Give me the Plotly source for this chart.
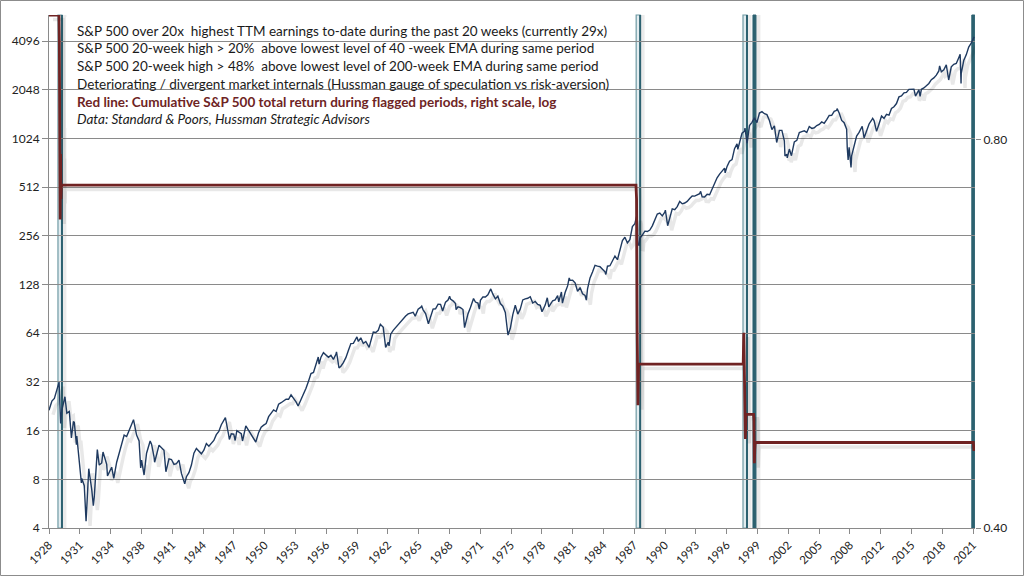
import math
import plotly.graph_objects as go

# ---------------- data ----------------
sp_dates = [
    1928.70, 1928.99, 1929.24, 1929.49, 1929.71, 1929.83, 1929.87, 1929.99,
    1930.24, 1930.30, 1930.49, 1930.74, 1930.95, 1930.99,
    1931.15, 1931.24, 1931.45, 1931.49, 1931.74, 1931.95, 1931.99,
    1932.24, 1932.42, 1932.69, 1932.99,
    1933.15, 1933.24, 1933.49, 1933.55, 1933.74, 1933.99,
    1934.12, 1934.49, 1934.57, 1934.99,
    1935.20, 1935.49, 1935.74, 1935.99,
    1936.24, 1936.49, 1936.74, 1936.99,
    1937.18, 1937.49, 1937.74, 1937.90, 1937.99,
    1938.24, 1938.49, 1938.85, 1938.99,
    1939.24, 1939.30, 1939.74, 1939.99,
    1940.24, 1940.43, 1940.74, 1940.99,
    1941.24, 1941.49, 1941.74, 1941.99,
    1942.32, 1942.49, 1942.74, 1942.99,
    1943.24, 1943.49, 1943.74, 1943.99,
    1944.24, 1944.49, 1944.74, 1944.99,
    1945.24, 1945.49, 1945.74, 1945.99,
    1946.24, 1946.40, 1946.74, 1946.80, 1946.99,
    1947.24, 1947.38, 1947.55, 1947.99,
    1948.12, 1948.45, 1948.99,
    1949.45, 1949.74, 1949.99,
    1950.24, 1950.49, 1950.74, 1950.99,
    1951.24, 1951.49, 1951.74, 1951.99,
    1952.24, 1952.49, 1952.74, 1952.99,
    1953.24, 1953.49, 1953.70, 1953.99,
    1954.24, 1954.49, 1954.74, 1954.99,
    1955.24, 1955.49, 1955.72, 1955.80, 1955.99,
    1956.24, 1956.49, 1956.74, 1956.99,
    1957.24, 1957.49, 1957.55, 1957.80, 1957.99,
    1958.24, 1958.49, 1958.74, 1958.99,
    1959.24, 1959.49, 1959.60, 1959.74, 1959.99,
    1960.24, 1960.49, 1960.82, 1960.99,
    1961.24, 1961.49, 1961.74, 1961.95,
    1962.24, 1962.48, 1962.74, 1962.82, 1962.99,
    1963.24, 1963.49, 1963.74, 1963.99,
    1964.24, 1964.49, 1964.74, 1964.99,
    1965.24, 1965.45, 1965.74, 1965.99,
    1966.10, 1966.24, 1966.49, 1966.77, 1966.99,
    1967.24, 1967.49, 1967.74, 1967.99,
    1968.20, 1968.49, 1968.74, 1968.90, 1968.99,
    1969.24, 1969.49, 1969.55, 1969.74, 1969.99,
    1970.24, 1970.40, 1970.49, 1970.74, 1970.99,
    1971.30, 1971.49, 1971.74, 1971.88, 1971.99,
    1972.24, 1972.49, 1972.74, 1972.99,
    1973.03, 1973.24, 1973.49, 1973.74, 1973.99,
    1974.24, 1974.49, 1974.74, 1974.76, 1974.99,
    1975.24, 1975.49, 1975.74, 1975.99,
    1976.24, 1976.49, 1976.74, 1976.99,
    1977.24, 1977.49, 1977.74, 1977.99,
    1978.17, 1978.49, 1978.70, 1978.85, 1978.99,
    1979.24, 1979.49, 1979.74, 1979.85, 1979.99,
    1980.12, 1980.22, 1980.49, 1980.74, 1980.90, 1980.99,
    1981.24, 1981.49, 1981.74, 1981.99,
    1982.24, 1982.49, 1982.62, 1982.74, 1982.99,
    1983.24, 1983.49, 1983.74, 1983.99,
    1984.24, 1984.49, 1984.58, 1984.74, 1984.99,
    1985.24, 1985.49, 1985.74, 1985.99,
    1986.24, 1986.49, 1986.74, 1986.99,
    1987.24, 1987.49, 1987.65, 1987.74, 1987.80, 1987.92, 1987.99,
    1988.24, 1988.49, 1988.74, 1988.99,
    1989.24, 1989.49, 1989.74, 1989.99,
    1990.24, 1990.49, 1990.55, 1990.78, 1990.99,
    1991.24, 1991.49, 1991.74, 1991.99,
    1992.24, 1992.49, 1992.74, 1992.99,
    1993.24, 1993.49, 1993.74, 1993.99,
    1994.09, 1994.24, 1994.49, 1994.74, 1994.99,
    1995.24, 1995.49, 1995.74, 1995.99,
    1996.24, 1996.49, 1996.55, 1996.74, 1996.99,
    1997.24, 1997.49, 1997.74, 1997.82, 1997.99,
    1998.24, 1998.49, 1998.54, 1998.75, 1998.99,
    1999.24, 1999.49, 1999.74, 1999.99,
    2000.24, 2000.49, 2000.74, 2000.99,
    2001.24, 2001.49, 2001.72, 2001.99,
    2002.24, 2002.49, 2002.55, 2002.74, 2002.78, 2002.99,
    2003.20, 2003.49, 2003.74, 2003.99,
    2004.24, 2004.49, 2004.74, 2004.99,
    2005.24, 2005.49, 2005.74, 2005.99,
    2006.24, 2006.49, 2006.74, 2006.99,
    2007.24, 2007.49, 2007.74, 2007.78, 2007.99,
    2008.24, 2008.49, 2008.74, 2008.80, 2008.89, 2008.99,
    2009.18, 2009.24, 2009.49, 2009.74, 2009.99,
    2010.30, 2010.49, 2010.74, 2010.99,
    2011.24, 2011.35, 2011.49, 2011.74, 2011.99,
    2012.24, 2012.49, 2012.74, 2012.99,
    2013.24, 2013.49, 2013.74, 2013.99,
    2014.24, 2014.49, 2014.74, 2014.99,
    2015.24, 2015.49, 2015.65, 2015.74, 2015.99,
    2016.11, 2016.24, 2016.49, 2016.74, 2016.99,
    2017.24, 2017.49, 2017.74, 2017.99,
    2018.07, 2018.24, 2018.49, 2018.74, 2018.98,
    2019.24, 2019.49, 2019.74, 2019.99,
    2020.13, 2020.22, 2020.24, 2020.49, 2020.74, 2020.99,
    2021.24, 2021.50, 2021.55,
]
sp_values = [
    21.4, 24.35, 25.3, 29.0, 31.9, 20.4, 17.7, 21.45,
    25.1, 25.9, 20.5, 21.0, 14.4, 15.3,
    18.2, 18.0, 13.1, 14.8, 9.7, 7.6, 8.1,
    7.3, 4.4, 9.3, 6.9,
    5.5, 6.2, 10.9, 12.2, 9.8, 10.1,
    11.8, 9.9, 8.4, 9.5,
    8.1, 10.2, 11.6, 13.4,
    15.0, 14.7, 15.9, 17.2,
    18.7, 15.0, 13.8, 9.4, 10.5,
    8.5, 11.6, 13.8, 13.2,
    11.0, 10.2, 13.0, 12.5,
    12.1, 8.9, 10.7, 10.6,
    9.9, 10.0, 10.5, 8.7,
    7.5, 8.3, 8.8, 9.8,
    11.6, 12.4, 12.0, 11.5,
    12.1, 13.3, 12.8, 13.3,
    13.9, 15.1, 15.8, 17.4,
    18.7, 19.25, 14.9, 14.1, 15.3,
    15.2, 13.9, 16.0, 15.3,
    13.8, 17.1, 15.2,
    13.6, 15.6, 16.8,
    17.3, 17.7, 19.5, 20.4,
    21.5, 21.0, 23.3, 23.8,
    24.4, 25.0, 25.0, 26.6,
    25.3, 24.1, 22.7, 24.8,
    26.9, 29.2, 32.3, 36.0,
    36.6, 41.0, 45.6, 41.2, 45.5,
    48.5, 46.97, 45.4, 46.7,
    44.1, 47.4, 49.1, 39.0, 40.0,
    42.1, 45.2, 50.1, 55.2,
    55.4, 58.5, 60.7, 56.9, 59.9,
    55.3, 56.9, 52.3, 58.1,
    65.1, 64.6, 66.7, 72.6,
    69.6, 52.3, 56.3, 53.5, 63.1,
    66.6, 69.4, 71.7, 75.0,
    79.0, 81.7, 84.2, 84.75,
    86.2, 81.6, 90.0, 92.4,
    94.0, 89.2, 84.7, 73.2, 80.3,
    90.2, 90.6, 96.7, 96.5,
    87.7, 99.6, 102.7, 108.4, 103.9,
    101.5, 97.7, 89.5, 93.1, 92.1,
    89.6, 69.3, 72.7, 84.2, 92.2,
    104.8, 99.7, 98.3, 90.2, 102.1,
    107.2, 107.1, 110.6, 118.1,
    120.2, 111.5, 104.3, 108.4, 97.6,
    94.0, 86.0, 63.5, 62.3, 68.6,
    83.4, 95.2, 83.9, 90.2,
    102.8, 104.3, 105.2, 107.5,
    98.4, 100.5, 96.5, 95.1,
    86.9, 95.5, 106.0, 93.0, 96.1,
    101.6, 102.9, 109.3, 99.9, 107.9,
    115.1, 98.2, 114.2, 125.5, 140.5, 135.8,
    136.0, 131.2, 116.2, 122.6,
    112.0, 109.6, 102.4, 120.4, 140.6,
    153.0, 168.1, 166.1, 164.9,
    159.2, 153.2, 147.8, 166.1, 167.2,
    180.7, 191.9, 182.1, 211.3,
    238.9, 250.8, 231.3, 242.2,
    291.7, 304.0, 336.8, 321.8, 224.8, 223.9, 247.1,
    258.9, 273.5, 271.9, 277.7,
    294.9, 318.0, 349.2, 353.4,
    339.9, 358.0, 368.9, 295.5, 330.2,
    375.2, 371.2, 387.9, 417.1,
    403.7, 408.1, 417.8, 435.7,
    451.7, 450.5, 458.9, 466.5,
    482.0, 445.8, 444.3, 462.7, 459.3,
    500.7, 544.8, 584.4, 615.9,
    645.5, 670.6, 626.6, 687.3, 740.7,
    757.1, 885.1, 947.3, 876.9, 970.4,
    1101.8, 1133.8, 1186.8, 957.3, 1229.2,
    1286.4, 1372.7, 1282.7, 1469.3,
    1498.6, 1454.6, 1436.5, 1320.3,
    1160.3, 1224.4, 965.8, 1148.1,
    1147.4, 989.8, 797.7, 815.3, 776.8, 879.8,
    800.7, 974.5, 996.0, 1111.9,
    1126.2, 1140.8, 1114.6, 1211.9,
    1180.6, 1191.3, 1228.8, 1248.3,
    1294.8, 1270.2, 1335.9, 1418.3,
    1420.9, 1503.4, 1526.8, 1565.2, 1468.4,
    1322.7, 1280.0, 1166.4, 899.2, 752.4, 903.3,
    676.5, 797.9, 919.3, 1057.1, 1115.1,
    1217.3, 1030.7, 1141.2, 1257.6,
    1325.8, 1363.6, 1320.6, 1131.4, 1257.6,
    1408.5, 1362.2, 1440.7, 1426.2,
    1569.2, 1606.3, 1681.6, 1848.4,
    1872.3, 1960.2, 1972.3, 2058.9,
    2067.9, 2063.1, 1867.6, 1920.0, 2043.9,
    1864.8, 2059.7, 2098.9, 2168.3, 2238.8,
    2362.7, 2423.4, 2519.4, 2673.6,
    2872.9, 2640.9, 2718.4, 2914.0, 2351.1,
    2834.4, 2941.8, 2976.7, 3230.8,
    3386.2, 2237.4, 2584.6, 3100.3, 3363.0, 3756.1,
    3972.9, 4297.5, 4340.0,
]

# Red line: cumulative total return during flagged periods (right scale)
red_dates = [1928.70, 1929.70, 1929.74, 1929.78, 1929.82, 1929.86, 1929.90, 1929.94,
             1987.60, 1987.66, 1987.72, 1987.76, 1987.80, 1987.86,
             1998.36, 1998.42, 1998.47, 1998.52, 1998.58, 1998.64,
             1999.40, 1999.44, 1999.48, 1999.52, 1999.56,
             2021.45, 2021.52]
red_values = [1.00, 1.00, 0.95, 0.787, 0.694, 0.78, 0.72, 0.738,
              0.738, 0.72, 0.57, 0.55, 0.498, 0.536,
              0.536, 0.567, 0.53, 0.509, 0.469, 0.490,
              0.490, 0.486, 0.449, 0.460, 0.466,
              0.466, 0.459]

# Flagged periods (vertical bands)
flag_starts = [1929.60, 1987.62, 1998.34, 1999.34, 2021.30]
flag_ends = [1930.00, 1988.02, 1998.74, 1999.64, 2021.60]
flag_solid = [False, False, False, True, True]

left_ticks = [4, 8, 16, 32, 64, 128, 256, 512, 1024, 2048, 4096]
right_ticks = [0.40, 0.80]
right_tick_text = ["0.40", "0.80"]
year_labels = ["1928", "1931", "1934", "1938", "1941", "1944", "1947", "1950", "1953",
               "1956", "1959", "1962", "1965", "1968", "1971", "1975", "1978", "1981",
               "1984", "1987", "1990", "1993", "1996", "1999", "2002", "2005", "2008",
               "2012", "2015", "2018", "2021"]

legend_lines = [
    "S&P 500 over 20x  highest TTM earnings to-date during the past 20 weeks (currently 29x)",
    "S&P 500 20-week high > 20%  above lowest level of 40 -week EMA during same period",
    "S&P 500 20-week high > 48%  above lowest level of 200-week EMA during same period",
    "Deteriorating / divergent market internals (Hussman gauge of speculation vs risk-aversion)",
    "<b>Red line: Cumulative S&P 500 total return during flagged periods, right scale, log</b>",
    "<i>Data: Standard & Poors, Hussman Strategic Advisors</i>",
]
legend_colors = ["#1a1a1a", "#1a1a1a", "#1a1a1a", "#1a1a1a", "#6e2424", "#1a1a1a"]

# ---------------- layout geometry ----------------
W, H = 1025, 577
PL, PR, PT, PB = 49, 975, 15, 528  # plot-area pixel box
X0, X1 = 1928.70, 2021.62
FONT = "Lato, 'Open Sans', sans-serif"

NAVY = "#1f3a60"
RED = "#702323"
TEAL = "#2c6170"
TEAL_LIGHT = "#6f9aa4"
GRID = "#8a8a8a"


def px_x(p):
    return (p - PL) / (PR - PL)


def px_y(p):
    return (PB - p) / (PB - PT)


year_step = (X1 - X0) * 30.8 / (PR - PL)
tick_positions = [X0 + k * year_step for k in range(len(year_labels))]

fig = go.Figure()

# soft drop shadows
fig.add_trace(go.Scatter(
    x=[d + 0.4 for d in sp_dates], y=[v * 2 ** (-4.5 / 48.7) for v in sp_values],
    mode="lines", line=dict(color="rgba(0,0,0,0.09)", width=3.5),
    hoverinfo="skip", showlegend=False))
fig.add_trace(go.Scatter(
    x=[d + 0.4 for d in red_dates], y=[v * 2 ** (-4.5 / 390) for v in red_values],
    mode="lines", line=dict(color="rgba(0,0,0,0.09)", width=3.5),
    yaxis="y2", hoverinfo="skip", showlegend=False))

fig.add_trace(go.Scatter(
    x=sp_dates, y=sp_values, mode="lines",
    line=dict(color=NAVY, width=1.4), name="S&P 500", showlegend=False))
fig.add_trace(go.Scatter(
    x=red_dates, y=red_values, mode="lines",
    line=dict(color=RED, width=2.8), yaxis="y2", name="Cumulative return",
    showlegend=False))

shapes = []
for s, e, solid in zip(flag_starts, flag_ends, flag_solid):
    shapes.append(dict(type="rect", xref="x", yref="paper", x0=e, x1=e + 0.45, y0=0, y1=1,
                       fillcolor="rgba(0,0,0,0.08)", line=dict(width=0), layer="between"))
    if solid:
        shapes.append(dict(type="rect", xref="x", yref="paper", x0=s, x1=e, y0=0, y1=1,
                           fillcolor=TEAL, line=dict(color=TEAL, width=1), layer="between"))
    else:
        shapes.append(dict(type="rect", xref="x", yref="paper", x0=s, x1=e, y0=0, y1=1,
                           fillcolor="rgba(215,230,234,0.7)",
                           line=dict(color=TEAL_LIGHT, width=1.2), layer="between"))
        shapes.append(dict(type="line", xref="x", yref="paper", x0=e, x1=e, y0=0, y1=1,
                           line=dict(color=TEAL, width=2), layer="between"))

# white text box
shapes.append(dict(type="rect", xref="paper", yref="paper",
                   x0=px_x(66), x1=px_x(630), y0=px_y(128), y1=px_y(17),
                   fillcolor="white", line=dict(width=0), layer="between"))
# outer chart border
shapes.append(dict(type="rect", xref="paper", yref="paper",
                   x0=px_x(0.5), x1=px_x(W - 1.5), y0=px_y(H - 1.5), y1=px_y(0.5),
                   line=dict(color="#8c8c8c", width=1), fillcolor="rgba(0,0,0,0)",
                   layer="above"))

annotations = []
line_centers = [31, 48.5, 66, 83.5, 101.5, 119]
for txt, col, yc in zip(legend_lines, legend_colors, line_centers):
    annotations.append(dict(text=txt, xref="paper", yref="paper", x=px_x(75), y=px_y(yc),
                            xanchor="left", yanchor="middle", showarrow=False,
                            font=dict(family=FONT, size=13.5, color=col)))

fig.update_layout(
    width=W, height=H, autosize=False,
    margin=dict(l=PL, r=W - PR, t=PT, b=H - PB, pad=0),
    paper_bgcolor="white", plot_bgcolor="white",
    font=dict(family=FONT, size=12, color="#222222"),
    showlegend=False,
    shapes=shapes, annotations=annotations,
    xaxis=dict(range=[X0, X1], showgrid=False, zeroline=False,
               tickmode="array", tickvals=tick_positions, ticktext=year_labels,
               tickangle=-45, ticks="outside", ticklen=5, tickcolor=GRID,
               showline=True, linecolor=GRID, linewidth=1,
               tickfont=dict(family=FONT, size=11.5, color="#222222")),
    yaxis=dict(type="log", range=[math.log10(4), math.log10(5930)],
               tickmode="array", tickvals=left_ticks, ticktext=[str(t) for t in left_ticks],
               showgrid=True, gridcolor=GRID, gridwidth=1, zeroline=False,
               ticks="outside", ticklen=6, tickcolor=GRID,
               showline=True, linecolor=GRID, linewidth=1,
               tickfont=dict(family=FONT, size=12, color="#222222")),
    yaxis2=dict(type="log", overlaying="y", side="right",
                range=[math.log10(0.4), math.log10(1.0)],
                tickmode="array", tickvals=right_ticks, ticktext=right_tick_text,
                showgrid=False, zeroline=False, showline=False,
                ticks="outside", ticklen=5, tickcolor=GRID,
                tickfont=dict(family=FONT, size=12, color="#222222")),
)

fig.write_html("out.html", config={"displayModeBar": False},
               post_script="document.body.style.margin='0';document.body.style.overflow='hidden';")
